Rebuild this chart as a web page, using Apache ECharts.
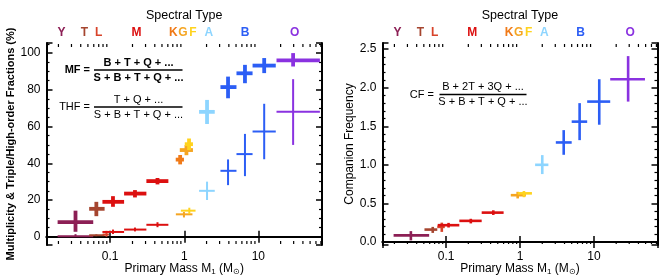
<!DOCTYPE html>
<html><head><meta charset="utf-8">
<script src="https://cdn.jsdelivr.net/npm/echarts@6/dist/echarts.min.js"></script>
<style>html,body{margin:0;padding:0;background:#fff}#c{width:668px;height:280px}</style>
</head><body><div id="c"></div>
<script>
// ---- data ----
const specTypes = ['Y','T','L','M','K','G','F','A','B','O'];
const specMass  = [0.022,0.045,0.07,0.226,0.71,0.96,1.31,2.14,6.6,31];

// Multiplicity fraction (left, thick crosses)
const mfType   = ['Y','T','M','M','M','K','G','F','A','B','B','B','O'];
const mfMass   = [0.034,0.065,0.109,0.216,0.435,0.88,1.07,1.16,2.03,3.9,6.6,12,29.5];
const mfMassLo = [0.0195,0.052,0.0785,0.154,0.308,0.767,0.87,1.016,1.585,3.08,5.07,8.36,17.6];
const mfMassHi = [0.059,0.084,0.154,0.308,0.61,0.99,1.31,1.31,2.58,5.07,8.36,17.2,67.8];
const mfVal    = [8,15.2,19,23.5,30.3,42,47.2,50.4,68,81.5,89,93.2,96];
const mfLo     = [2.7,11.2,16.3,21.4,28.5,39.4,44.4,47.2,61.4,75.4,83.6,89.1,92.7];
const mfHi     = [14.2,19,22.1,25.4,32,44.5,49.9,53.5,74.5,87.2,93.6,97.3,100];

// Triple/high-order fraction (left, thin crosses)
const thfType   = ['Y','T','L','M','M','M','G','F','A','B','B','B','O'];
const thfMass   = [0.034,0.065,0.089,0.109,0.216,0.435,0.99,1.17,2.03,3.9,6.6,12,29.5];
const thfMassLo = [0.0195,0.052,0.079,0.0785,0.154,0.308,0.77,0.9,1.585,3.08,5.07,8.36,17.6];
const thfMassHi = [0.059,0.084,0.096,0.154,0.308,0.61,1.29,1.42,2.58,5.07,8.36,17.2,67.8];
const thfVal    = [0.2,0.8,1.2,2.6,3.9,6.5,12.2,14.2,25,35.9,45,57.3,68];
const thfLo     = [0,0.3,0,1.5,2.9,5.2,10.5,12.4,20,28.1,33,42.2,50];
const thfHi     = [1.4,1.3,3.2,3.9,5,7.9,13.5,15.8,30,42.1,56,72.4,85.8];

// Companion frequency (right)
const cfType   = ['Y','T','L','M','M','M','G','F','A','B','B','B','O'];
const cfMass   = [0.0334,0.066,0.0875,0.108,0.216,0.435,0.93,1.13,2.0,3.9,6.4,11.8,29];
const cfMassLo = [0.0195,0.051,0.076,0.077,0.151,0.303,0.75,0.93,1.6,3.05,5.0,8.1,16.6];
const cfMassHi = [0.059,0.076,0.096,0.151,0.303,0.6,1.2,1.45,2.42,5.0,8.1,16.6,49];
const cfVal    = [0.085,0.16,0.195,0.217,0.273,0.38,0.606,0.63,1.0,1.29,1.56,1.82,2.11];
const cfLo     = [0.02,0.117,0.13,0.187,0.24,0.35,0.564,0.58,0.88,1.13,1.32,1.52,1.82];
const cfHi     = [0.14,0.195,0.25,0.247,0.30,0.41,0.65,0.66,1.126,1.45,1.80,2.11,2.41];

// axis tick values
const xMajorTicks = [0.1, 1, 10];
const xMinorTicks = [0.02,0.03,0.04,0.05,0.06,0.07,0.08,0.09,0.2,0.3,0.4,0.5,0.6,0.7,0.8,0.9,2,3,4,5,6,7,8,9,20,30,40,50,60,70];
const yLeftTicks  = [0,20,40,60,80,100];
const yRightTicks = [0,0.5,1,1.5,2,2.5];

// ---- styles ----
const colors = {Y:'#8c1f55',T:'#a5452f',L:'#d8432a',M:'#dc1010',K:'#f07a18',G:'#f5a522',F:'#ffd31e',A:'#8dd5ff',B:'#2c5ef5',O:'#8a32e0'};
const FONT = 'Liberation Sans, Arial, Helvetica, sans-serif';
const X_MIN = 0.0138, X_MAX = 72.4;
const YL = [-4.5, 105.5], YR = [-0.04, 2.58];

function near(v, arr){ return arr.some(t => Math.abs(v - t) < 1e-6 * Math.max(1, Math.abs(t))); }

function xAxes(gi){
  const common = {type:'log', logBase:10, min:X_MIN, max:X_MAX, gridIndex:gi,
    axisLine:{show:true, lineStyle:{color:'#000', width:2}},
    axisTick:{show:true, inside:true, length:6, lineStyle:{color:'#000', width:1.5}},
    splitLine:{show:false}};
  return [
    Object.assign({}, common, {position:'bottom',
      axisLabel:{show:true, color:'#000', fontSize:12, fontFamily:FONT, margin:6,
        formatter:v => near(v, xMajorTicks) ? String(xMajorTicks.find(t=>Math.abs(v-t)<1e-6*Math.max(1,t))) : ''},
      name:'Primary Mass M{s|1} (M{s|\u2299})', nameLocation:'middle', nameGap:17, nameMoveOverlap:false,
      nameTextStyle:{color:'#000', fontSize:12, fontFamily:FONT, lineHeight:14,
        rich:{s:{fontSize:8, fontFamily:FONT, color:'#000', verticalAlign:'bottom', lineHeight:8}}}}),
    Object.assign({}, common, {position:'top', axisLabel:{show:false},
      name:'Spectral Type', nameLocation:'middle', nameGap:21,
      nameTextStyle:{color:'#000', fontSize:12.5, fontFamily:FONT}})
  ];
}
function yAxes(gi, ext, ticks, minorSplit, fmt, name, nameStyle, gap){
  const common = {type:'value', min:ext[0], max:ext[1], gridIndex:gi, splitNumber:5,
    axisLine:{show:true, onZero:false, lineStyle:{color:'#000', width:2}},
    axisTick:{show:true, inside:true, length:6, lineStyle:{color:'#000', width:1.5}},
    minorTick:{show:true, splitNumber:minorSplit, length:3, lineStyle:{color:'#000', width:1.2}},
    splitLine:{show:false}, minorSplitLine:{show:false}};
  return [
    Object.assign({}, common, {position:'left',
      axisLabel:{show:true, color:'#000', fontSize:12, fontFamily:FONT, margin:6,
        formatter:v => near(v, ticks) ? fmt(v) : ''},
      name:name, nameLocation:'middle', nameGap:gap, nameTextStyle:nameStyle}),
    Object.assign({}, common, {position:'right', axisLabel:{show:false}})
  ];
}

function crossSeries(axisIdx, type, mass, mlo, mhi, v, lo, hi, lw){
  return {
    type:'custom', xAxisIndex:axisIdx, yAxisIndex:axisIdx, clip:false, silent:true,
    data: mass.map((m,i)=>[m, mlo[i], mhi[i], v[i], lo[i], hi[i], i]),
    encode:{x:[0,1,2], y:[3,4,5]},
    renderItem:(params, api)=>{
      const i = api.value(6);
      const c = colors[type[i]];
      const pL = api.coord([api.value(1), api.value(3)]);
      const pR = api.coord([api.value(2), api.value(3)]);
      const pB = api.coord([api.value(0), api.value(4)]);
      const pT = api.coord([api.value(0), api.value(5)]);
      return {type:'group', children:[
        {type:'line', shape:{x1:pL[0],y1:pL[1],x2:pR[0],y2:pR[1]}, style:{stroke:c, lineWidth:lw}},
        {type:'line', shape:{x1:pB[0],y1:pB[1],x2:pT[0],y2:pT[1]}, style:{stroke:c, lineWidth:lw}}
      ]};
    }
  };
}
function minorTickSeries(axisIdx, ext){
  return {
    type:'custom', xAxisIndex:axisIdx, yAxisIndex:axisIdx, clip:false, silent:true,
    data: xMinorTicks.map(v=>[v, ext[0]]),
    encode:{x:0, y:1},
    renderItem:(params, api)=>{
      const b = api.coord([api.value(0), ext[0]]);
      const t = api.coord([api.value(0), ext[1]]);
      const st = {stroke:'#000', lineWidth:1.2};
      return {type:'group', children:[
        {type:'line', shape:{x1:b[0],y1:b[1]-1,x2:b[0],y2:b[1]-4}, style:st},
        {type:'line', shape:{x1:t[0],y1:t[1]+1,x2:t[0],y2:t[1]+4}, style:st}
      ]};
    }
  };
}
function specSeries(axisIdx, ext){
  return {
    type:'custom', xAxisIndex:axisIdx, yAxisIndex:axisIdx, clip:false, silent:true,
    data: specMass.map((m,i)=>[m, ext[1], i]),
    encode:{x:0, y:1},
    renderItem:(params, api)=>{
      const i = api.value(2);
      const p = api.coord([api.value(0), ext[1]]);
      return {type:'text', x:p[0], y:p[1]-10,
        style:{text:specTypes[i], fill:colors[specTypes[i]], font:'bold 12px '+FONT,
          textAlign:'center', textVerticalAlign:'middle', align:'center', verticalAlign:'middle'}};
    }
  };
}

function txt(x, y, s, bold, align){
  return {type:'text', x:x, y:y, silent:true,
    style:{text:s, fill:'#000', font:(bold?'bold ':'')+'11px '+FONT,
      textAlign:align||'center', textVerticalAlign:'middle', align:align||'center', verticalAlign:'middle'}};
}
function hline(x1, x2, y){
  return {type:'line', silent:true, shape:{x1:x1,y1:y,x2:x2,y2:y}, style:{stroke:'#000', lineWidth:1.6}};
}

const chart = echarts.init(document.getElementById('c'), null, {renderer:'canvas'});
chart.setOption({
  animation:false,
  backgroundColor:'#fff',
  grid:[
    {left:46.5, top:43, width:275.5, height:202, containLabel:false, outerBoundsMode:'none'},
    {left:382.5, top:43, width:275, height:202, containLabel:false, outerBoundsMode:'none'}
  ],
  xAxis:[...xAxes(0), ...xAxes(1)],
  yAxis:[
    ...yAxes(0, YL, yLeftTicks, 4, v=>String(Math.round(v)),
      'Multiplicity & Triple/High-order Fractions (%)',
      {color:'#000', fontSize:11, fontWeight:'bold', fontFamily:FONT}, 28),
    ...yAxes(1, YR, yRightTicks, 5, v=>v.toFixed(1),
      'Companion Frequency', {color:'#000', fontSize:12, fontFamily:FONT}, 27)
  ],
  series:[
    minorTickSeries(0, YL),
    minorTickSeries(2, YR),
    specSeries(0, YL),
    specSeries(2, YR),
    crossSeries(0, thfType, thfMass, thfMassLo, thfMassHi, thfVal, thfLo, thfHi, 2),
    crossSeries(0, mfType, mfMass, mfMassLo, mfMassHi, mfVal, mfLo, mfHi, 3.8),
    crossSeries(2, cfType, cfMass, cfMassLo, cfMassHi, cfVal, cfLo, cfHi, 2.6)
  ],
  graphic:[
    txt(90, 70, 'MF =', true, 'right'),
    txt(138.5, 62.5, 'B + T + Q + ...', true),
    hline(94, 182.5, 70),
    txt(138.5, 78, 'S + B + T + Q + ...', true),
    txt(90, 107, 'THF =', false, 'right'),
    txt(138.5, 99.5, 'T + Q + ...', false),
    hline(94, 182.5, 107),
    txt(138.5, 115, 'S + B + T + Q + ...', false),
    txt(434, 94.5, 'CF =', false, 'right'),
    txt(483, 87, 'B + 2T + 3Q + ...', false),
    hline(439.5, 526.5, 94.5),
    txt(483, 102, 'S + B + T + Q + ...', false)
  ]
});
</script>
</body></html>
